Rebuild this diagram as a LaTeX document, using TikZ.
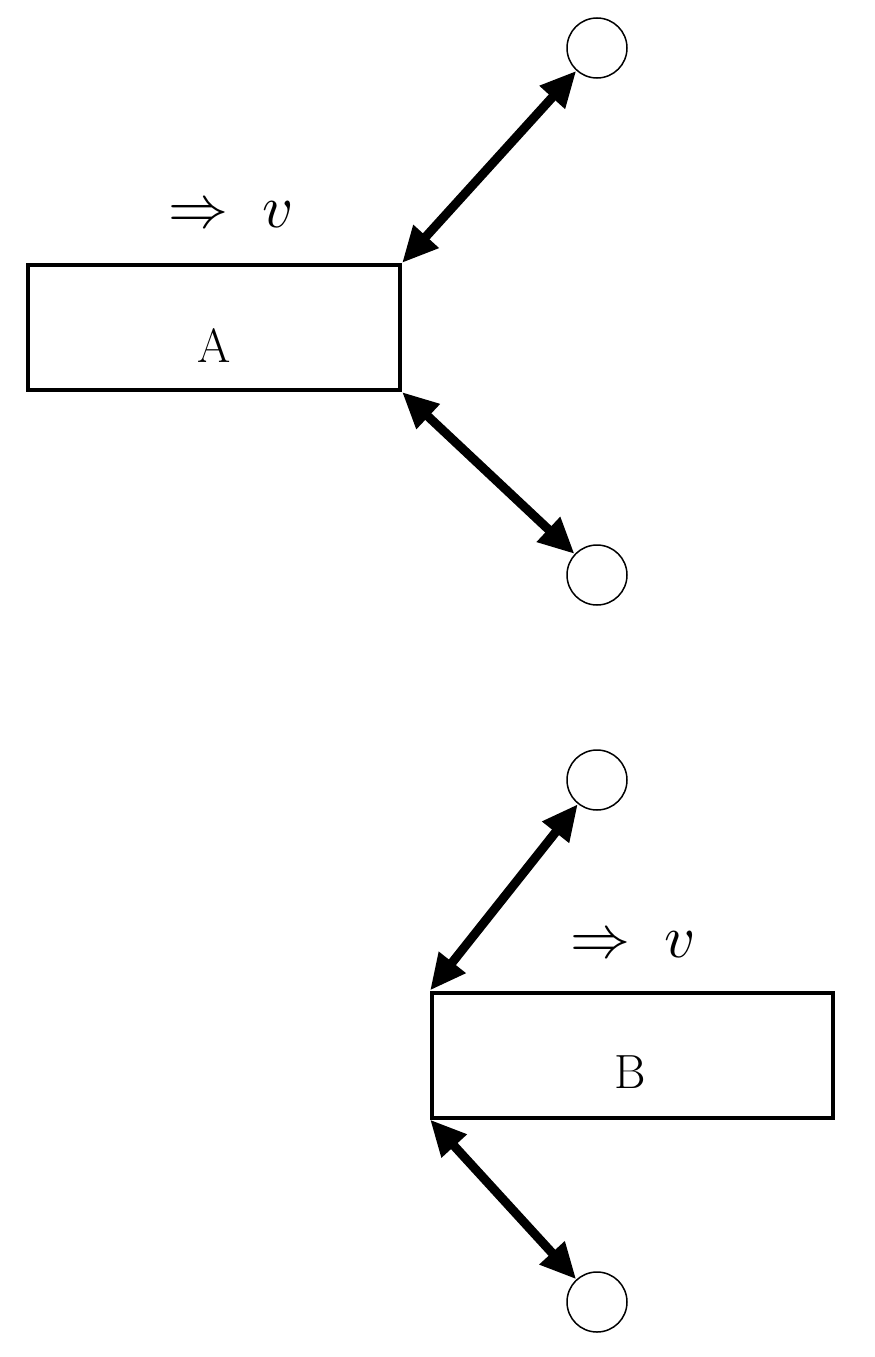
\documentclass[tikz,border=0pt]{standalone}
\usepackage{fix-cm}
\usepackage{graphicx}
\usetikzlibrary{arrows.meta}
\begin{document}
\begin{tikzpicture}[x=1pt,y=-1pt,
  box/.style={draw,line width=4pt,minimum width=372pt,minimum height=125pt,inner sep=0pt},
  boxtext/.style={font=\fontsize{48}{56}\selectfont},
  ball/.style={draw,line width=1.5pt,circle,minimum size=60pt,inner sep=0pt},
  lbl/.style={inner sep=0pt},
  dbl/.style={line width=9pt,{Triangle[length=36pt,width=32pt]}-{Triangle[length=36pt,width=32pt]}}]
\useasboundingbox (0,0) rectangle (875,1357);
\node[box] (A) at (214,327.5) {};
\node[boxtext] (tA) at (214,346) {A};
\node[lbl] (va) at (231,215) {\scalebox{6}{$\Rightarrow\;v$}};
\node[ball] (c1) at (597,48) {};
\node[ball] (c2) at (597,575) {};
\draw[dbl] (A.north east) -- (c1);
\draw[dbl] (A.south east) -- (c2);
\node[box,minimum width=401pt] (B) at (632.5,1055) {};
\node[boxtext] (tB) at (630,1072) {B};
\node[lbl] (vb) at (633,945) {\scalebox{6}{$\Rightarrow\;v$}};
\node[ball] (c3) at (597,780) {};
\node[ball] (c4) at (597,1302) {};
\draw[dbl] (B.north west) -- (c3);
\draw[dbl] (B.south west) -- (c4);
\end{tikzpicture}
\end{document}
